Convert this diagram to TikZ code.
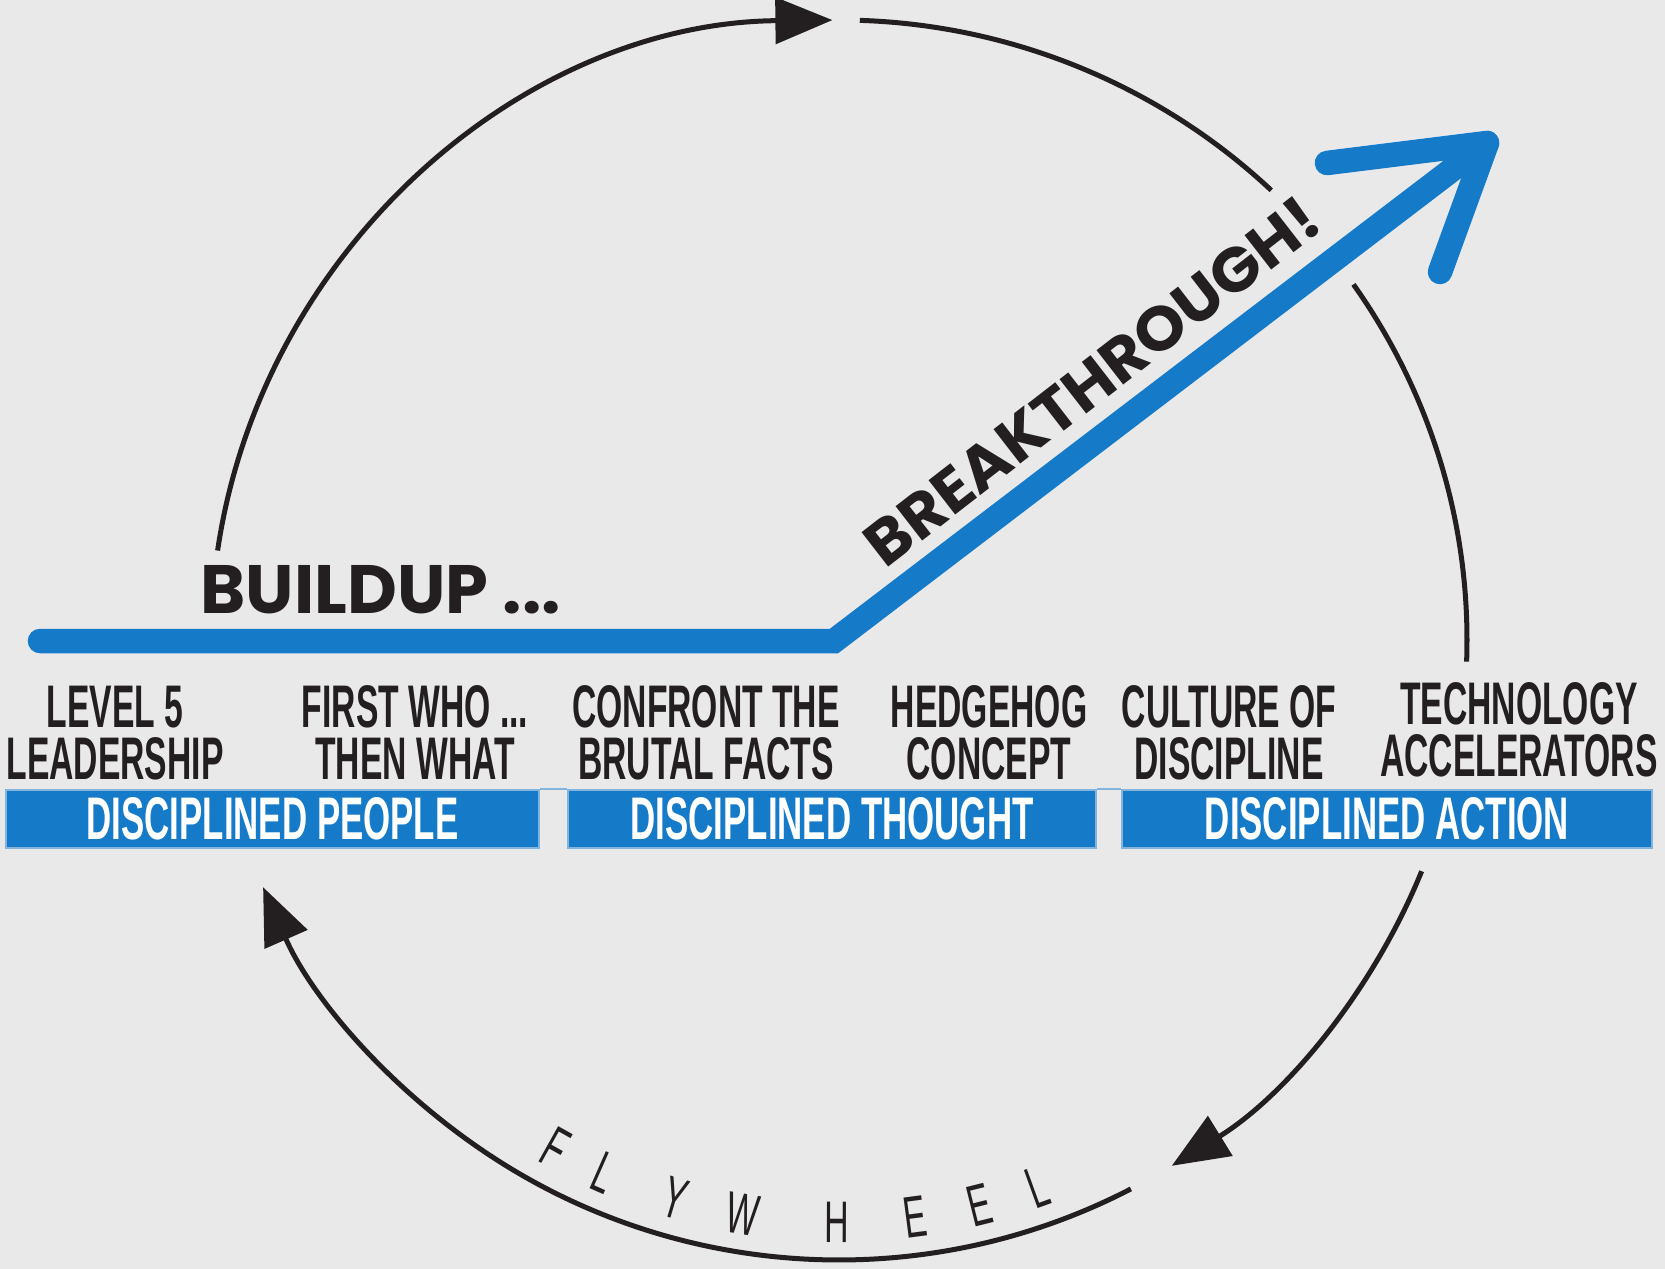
\documentclass[tikz,border=0pt]{standalone}
\usepackage{fontspec}
\usepackage{graphicx}
\usetikzlibrary{arrows.meta}
\setmainfont{Liberation Sans}
\newfontfamily\condfont[FakeStretch=0.56]{Liberation Sans}
\newfontfamily\boxfont[FakeStretch=0.58]{Liberation Sans}
\newfontfamily\flyfont[FakeStretch=0.58]{Liberation Sans}
\newfontfamily\headfont{Poppins}
\definecolor{bg}{RGB}{233,233,233}
\definecolor{fwblue}{RGB}{21,123,200}
\definecolor{rimblue}{RGB}{130,180,222}
\definecolor{ink}{RGB}{35,31,32}
\begin{document}
\begin{tikzpicture}[x=0.01cm,y=-0.01cm,
  flow/.style={draw=ink, line width=0.05cm},
  tipped/.style={-{Triangle[length=0.57cm,width=0.46cm]}},
  blueline/.style={draw=fwblue, line width=0.245cm},
  label/.style={font=\condfont\bfseries\fontsize{17.1}{14.8}\selectfont, text=ink, align=center, inner sep=0pt, anchor=north},
  stagebox/.style={fill=fwblue, draw=rimblue, line width=0.025cm, minimum height=0.58cm, inner sep=0pt,
                   font=\boxfont\bfseries\fontsize{17.1}{17}\selectfont, text=white},
  bigword/.style={text=ink, inner sep=0pt},
  flyletter/.style={font=\flyfont\fontsize{16.7}{16}\selectfont, text=ink, inner sep=0pt}]
\fill[bg] (0,0) rectangle (1665,1269);
\useasboundingbox (0,0) rectangle (1665,1269);

% flywheel circle centre
\coordinate (C) at (839,640);

% flywheel arcs
\draw[flow, tipped] ([shift={(188.3:628 and 620)}]C) arc[start angle=188.3, end angle=269.4, x radius=628, y radius=620];
\draw[flow] ([shift={(271.9:628 and 620)}]C) arc[start angle=271.9, end angle=313.5, x radius=628, y radius=620];
\draw[flow] ([shift={(325:628 and 620)}]C) arc[start angle=325, end angle=362, x radius=628, y radius=620];
\draw[flow, tipped] ([shift={(21.9:628 and 620)}]C) arc[start angle=21.9, end angle=58, x radius=628, y radius=620];
\draw[flow, tipped] ([shift={(62.3:628 and 620)}]C) arc[start angle=62.3, end angle=156.5, x radius=628, y radius=620];

% FLYWHEEL letters
\foreach \l/\a [count=\i] in {F/119.2, L/113.8, Y/106.4, W/99.5, H/90.2, E/82.5, E/76.0, L/70.1}
  \path ([shift={(\a:582)}]C) node[flyletter, rotate=90-\a] (fly\i) {\l};

% blue buildup / breakthrough line
\coordinate (start) at (40,641);
\coordinate (knee) at (834,641);
\coordinate (tipT) at (1487,143);
\coordinate (barbA) at (1327,163);
\coordinate (barbB) at (1440,272);
\draw[blueline, line cap=round, line join=miter] (start) -- (knee) -- (tipT);
\draw[blueline, line cap=round, line join=round] (barbA) -- (tipT) -- (barbB);

\node[bigword, anchor=south west] (buildup) at (200,615)
  {\resizebox{3.60cm}{0.48cm}{\headfont\bfseries BUILDUP ...}};
\node[bigword, rotate=37.8] (breakthrough) at (1092,381)
  {\resizebox{5.57cm}{0.45cm}{\headfont\bfseries BREAKTHROUGH!}};

% labels
\node[label] (lev5) at (115,685) {LEVEL 5\\LEADERSHIP};
\node[label] (firstwho) at (415,685) {FIRST WHO ...\\THEN WHAT};
\node[label] (confront) at (706,685) {CONFRONT THE\\BRUTAL FACTS};
\node[label] (hedgehog) at (989,685) {HEDGEHOG\\CONCEPT};
\node[label] (culture) at (1229,685) {CULTURE OF\\DISCIPLINE};
\node[label] (tech) at (1519,682) {TECHNOLOGY\\ACCELERATORS};

% stage boxes
\node[stagebox, minimum width=5.33cm] (people) at (272.5,819) {DISCIPLINED PEOPLE};
\node[stagebox, minimum width=5.28cm] (thought) at (832,819) {DISCIPLINED THOUGHT};
\node[stagebox, minimum width=5.30cm] (action) at (1387,819) {DISCIPLINED ACTION};
\draw[rimblue, line width=0.02cm] (people.north east) -- (thought.north west);
\draw[rimblue, line width=0.02cm] (thought.north east) -- (action.north west);
\end{tikzpicture}
\end{document}
